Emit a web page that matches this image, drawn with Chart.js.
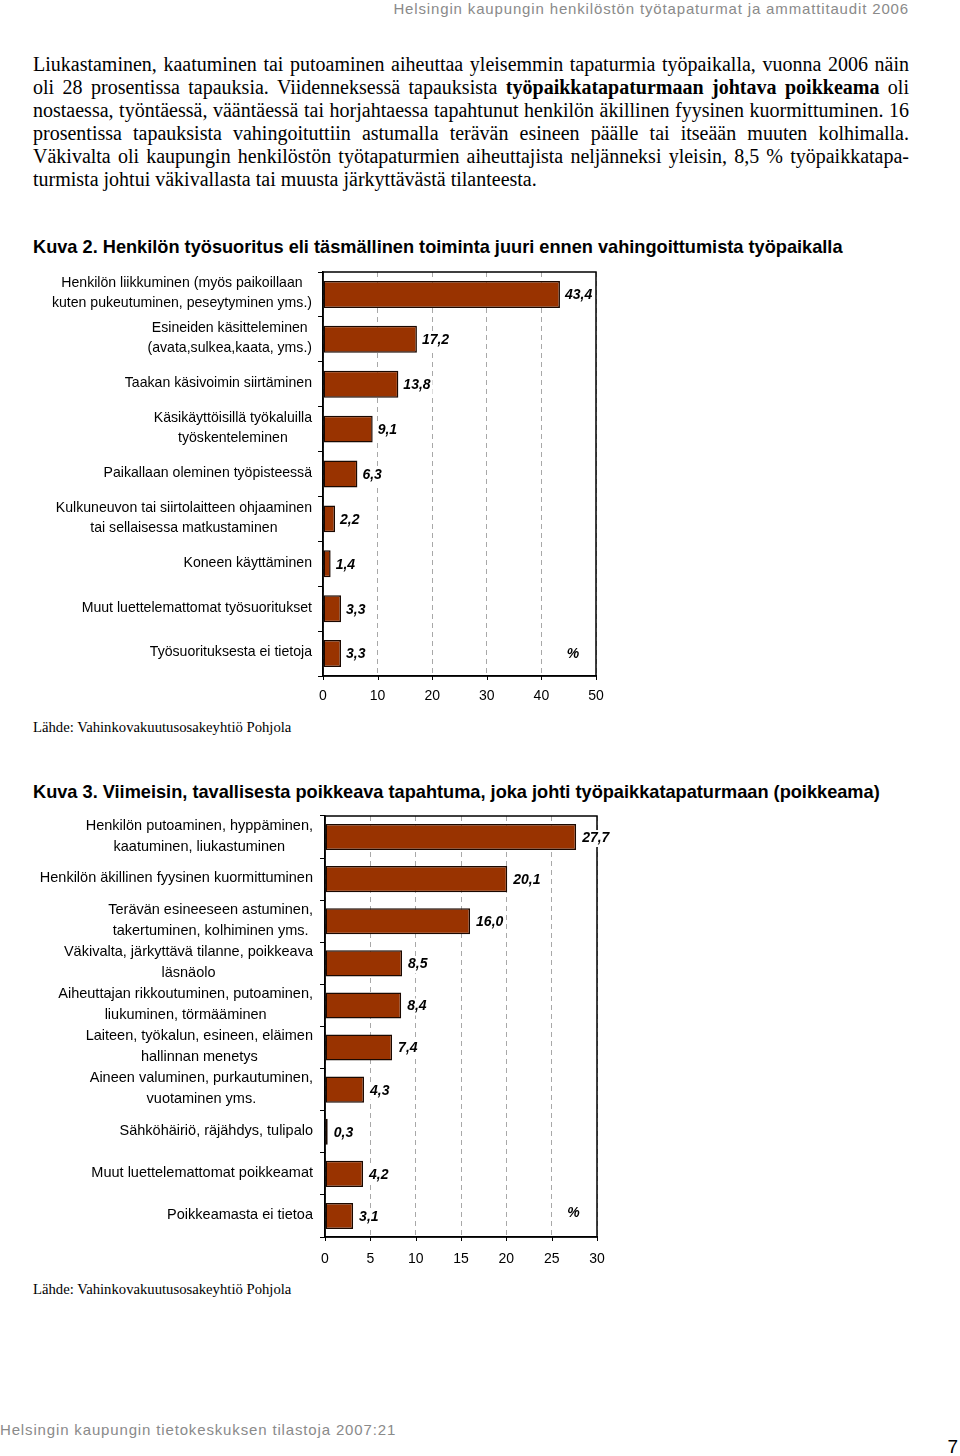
<!DOCTYPE html>
<html>
<head>
<meta charset="utf-8">
<script src="https://cdn.jsdelivr.net/npm/chart.js@4.4.0/dist/chart.umd.min.js"></script>
<style>
  body { margin: 0; background: #fff; }
  #page { position: relative; width: 960px; height: 1456px; overflow: hidden; background: #fff; }
  .hdr { position: absolute; font-family: "Liberation Sans Narrow", "Liberation Sans", Arial, sans-serif; color: #8a8a8a; font-size: 15px; letter-spacing: 0.85px; line-height: 18px; white-space: nowrap; }
  .body { position: absolute; left: 33px; width: 876px; font-family: "Liberation Serif", "Times New Roman", serif; font-size: 20px; line-height: 23px; color: #000; }
  .body div { text-align: justify; text-align-last: justify; white-space: nowrap; }
  .body div.last { text-align-last: left; }
  .title { position: absolute; left: 33px; font-family: "Liberation Sans", Arial, sans-serif; font-weight: bold; font-size: 18.2px; line-height: 20px; white-space: nowrap; }
  .src { position: absolute; left: 33px; font-family: "Liberation Serif", "Times New Roman", serif; font-size: 14.7px; line-height: 16px; white-space: nowrap; }
  canvas { position: absolute; left: 0; }
</style>
</head>
<body>
<div id="page">
  <div class="hdr" style="top:0; right:51px;">Helsingin kaupungin henkilöstön työtapaturmat ja ammattitaudit 2006</div>

  <div class="body" style="top:53px;">
    <div>Liukastaminen, kaatuminen tai putoaminen aiheuttaa yleisemmin tapaturmia työpaikalla, vuonna 2006 näin</div>
    <div>oli 28 prosentissa tapauksia. Viidenneksessä tapauksista <b>työpaikkatapaturmaan johtava poikkeama</b> oli</div>
    <div>nostaessa, työntäessä, vääntäessä tai horjahtaessa tapahtunut henkilön äkillinen fyysinen kuormittuminen. 16</div>
    <div>prosentissa tapauksista vahingoituttiin astumalla terävän esineen päälle tai itseään muuten kolhimalla.</div>
    <div>Väkivalta oli kaupungin henkilöstön työtapaturmien aiheuttajista neljänneksi yleisin, 8,5 % työpaikkatapa-</div>
    <div class="last">turmista johtui väkivallasta tai muusta järkyttävästä tilanteesta.</div>
  </div>

  <div class="title" style="top:237px;">Kuva 2. Henkilön työsuoritus eli täsmällinen toiminta juuri ennen vahingoittumista työpaikalla</div>
  <canvas id="chart1" width="640" height="450" style="top:262px;"></canvas>
  <div class="src" style="top:719px;">Lähde: Vahinkovakuutusosakeyhtiö Pohjola</div>

  <div class="title" style="top:782px;">Kuva 3. Viimeisin, tavallisesta poikkeava tapahtuma, joka johti työpaikkatapaturmaan (poikkeama)</div>
  <canvas id="chart2" width="640" height="480" style="top:800px;"></canvas>
  <div class="src" style="top:1281px;">Lähde: Vahinkovakuutusosakeyhtiö Pohjola</div>

  <div class="hdr" style="top:1421px; left:0;">Helsingin kaupungin tietokeskuksen tilastoja 2007:21</div>
  <div class="hdr" style="top:1437px; right:2px; color:#000; font-size:19px; line-height:20px; letter-spacing:0;">7</div>
</div>

<script>
// Kuva 2 - työsuoritus
const kuva2Labels = [
  ['Henkilön liikkuminen (myös paikoillaan', 'kuten pukeutuminen, peseytyminen yms.)'],
  ['Esineiden käsitteleminen', '(avata,sulkea,kaata, yms.)'],
  ['Taakan käsivoimin siirtäminen'],
  ['Käsikäyttöisillä työkaluilla', 'työskenteleminen'],
  ['Paikallaan oleminen työpisteessä'],
  ['Kulkuneuvon tai siirtolaitteen ohjaaminen', 'tai sellaisessa matkustaminen'],
  ['Koneen käyttäminen'],
  ['Muut luettelemattomat työsuoritukset'],
  ['Työsuorituksesta ei tietoja']
];
const kuva2Values = [43.4, 17.2, 13.8, 9.1, 6.3, 2.2, 1.4, 3.3, 3.3];
const kuva2Ticks = [0, 10, 20, 30, 40, 50];

// Kuva 3 - poikkeama
const kuva3Labels = [
  ['Henkilön putoaminen, hyppäminen,', 'kaatuminen, liukastuminen'],
  ['Henkilön äkillinen fyysinen kuormittuminen'],
  ['Terävän esineeseen astuminen,', 'takertuminen, kolhiminen yms.'],
  ['Väkivalta, järkyttävä tilanne, poikkeava', 'läsnäolo'],
  ['Aiheuttajan rikkoutuminen, putoaminen,', 'liukuminen, törmääminen'],
  ['Laiteen, työkalun, esineen, eläimen', 'hallinnan menetys'],
  ['Aineen valuminen, purkautuminen,', 'vuotaminen yms.'],
  ['Sähköhäiriö, räjähdys, tulipalo'],
  ['Muut luettelemattomat poikkeamat'],
  ['Poikkeamasta ei tietoa']
];
const kuva3Values = [27.7, 20.1, 16.0, 8.5, 8.4, 7.4, 4.3, 0.3, 4.2, 3.1];
const kuva3Ticks = [0, 5, 10, 15, 20, 25, 30];

const BAR = '#993300';
const VALUE_FONT = 'italic bold 14px "Liberation Sans", Arial, sans-serif';

// kehys + x-akselin pienet tikit
const framePlugin = {
  id: 'frame',
  afterDatasetsDraw(chart) {
    const { ctx, chartArea: a } = chart;
    const x = chart.scales.x;
    ctx.save();
    ctx.strokeStyle = '#000';
    ctx.lineWidth = 1.5;
    ctx.strokeRect(a.left, a.top, a.right - a.left, a.bottom - a.top);
    ctx.lineWidth = 1;
    x.ticks.forEach((t, i) => {
      const px = Math.round(x.getPixelForTick(i)) + 0.5;
      ctx.beginPath();
      ctx.moveTo(px, a.bottom);
      ctx.lineTo(px, a.bottom + 4);
      ctx.stroke();
    });
    ctx.restore();
  }
};

// luokkien nimet: rivit keskitetty, lohko oikealle tasattu
const catLabelPlugin = {
  id: 'catLabels',
  afterDraw(chart, args, opts) {
    const { ctx, chartArea: a } = chart;
    const y = chart.scales.y;
    ctx.save();
    ctx.font = opts.font;
    ctx.fillStyle = '#000';
    ctx.textAlign = 'center';
    ctx.textBaseline = 'middle';
    chart.data.labels.forEach((lines, i) => {
      const w = Math.max(...lines.map(l => ctx.measureText(l).width));
      const cx = a.left - opts.gap - w / 2;
      const cy = y.getPixelForTick(i) + opts.shift;
      const y0 = cy - (lines.length - 1) * opts.lineHeight / 2;
      lines.forEach((l, j) => ctx.fillText(l, cx, y0 + j * opts.lineHeight));
    });
    ctx.restore();
  }
};

// arvot palkkien perään (valkoinen tausta) + %-merkki
const valuePlugin = {
  id: 'values',
  afterDraw(chart, args, opts) {
    const { ctx } = chart;
    const meta = chart.getDatasetMeta(0);
    const vals = chart.data.datasets[0].data;
    ctx.save();
    ctx.font = VALUE_FONT;
    ctx.textBaseline = 'middle';
    const put = (txt, x, y) => {
      const w = ctx.measureText(txt).width;
      ctx.fillStyle = '#fff';
      ctx.fillRect(x - 1, y - 8, w + 3, 17);
      ctx.fillStyle = '#000';
      ctx.fillText(txt, x, y);
    };
    ctx.textAlign = 'left';
    meta.data.forEach((bar, i) => {
      put(vals[i].toFixed(1).replace('.', ','), bar.x + opts.off, bar.y + 1);
    });
    const last = vals.length - 1;
    const pw = ctx.measureText('%').width;
    put('%', chart.scales.x.getPixelForValue(opts.pctAt) - pw / 2, chart.scales.y.getPixelForTick(last) + opts.pctShift);
    ctx.restore();
  }
};

function makeChart(id, labels, values, ticks, cfg) {
  return new Chart(document.getElementById(id), {
    type: 'bar',
    data: {
      labels: labels,
      datasets: [{
        data: values,
        backgroundColor: BAR,
        borderColor: '#1a0800',
        borderWidth: 1.5,
        borderSkipped: false,
        barPercentage: cfg.barPct,
        categoryPercentage: 1
      }]
    },
    options: {
      indexAxis: 'y',
      responsive: false,
      animation: false,
      layout: { padding: { top: cfg.top, right: cfg.right, left: 0, bottom: 0 } },
      scales: {
        x: {
          min: ticks[0],
          max: ticks[ticks.length - 1],
          afterBuildTicks: s => { s.ticks = ticks.map(v => ({ value: v })); },
          afterFit: s => { s.height = cfg.xHeight; },
          grid: { color: '#a8a8a8', lineWidth: 1, drawTicks: false },
          border: { display: true, color: '#000', width: 1.5, dash: [5, 4] },
          ticks: { color: '#000', padding: cfg.tickPad, font: { family: '"Liberation Sans", Arial, sans-serif', size: 14 } }
        },
        y: {
          afterFit: s => { s.width = cfg.left; },
          grid: { drawOnChartArea: false, drawTicks: true, tickLength: 5, color: '#000', lineWidth: 1 },
          border: { display: true, color: '#000', width: 1.5 },
          ticks: { display: false }
        }
      },
      plugins: {
        legend: { display: false },
        tooltip: { enabled: false },
        catLabels: { gap: cfg.gap, lineHeight: cfg.lineHeight, font: cfg.labelFont, shift: cfg.labelShift },
        values: { pctAt: cfg.pctAt, pctShift: cfg.pctShift, off: cfg.valOff }
      }
    },
    plugins: [framePlugin, catLabelPlugin, valuePlugin]
  });
}

makeChart('chart1', kuva2Labels, kuva2Values, kuva2Ticks, {
  left: 323, right: 44, top: 10, xHeight: 36, tickPad: 12,
  barPct: 0.6, gap: 11, lineHeight: 20, labelShift: -1,
  labelFont: '14.1px "Liberation Sans", Arial, sans-serif',
  valOff: 5, pctAt: 45.8, pctShift: 1
});

makeChart('chart2', kuva3Labels, kuva3Values, kuva3Ticks, {
  left: 325, right: 43, top: 16, xHeight: 43, tickPad: 14,
  barPct: 0.62, gap: 12, lineHeight: 21, labelShift: -1,
  labelFont: '14.5px "Liberation Sans", Arial, sans-serif',
  valOff: 6, pctAt: 27.4, pctShift: -3
});
</script>
</body>
</html>
